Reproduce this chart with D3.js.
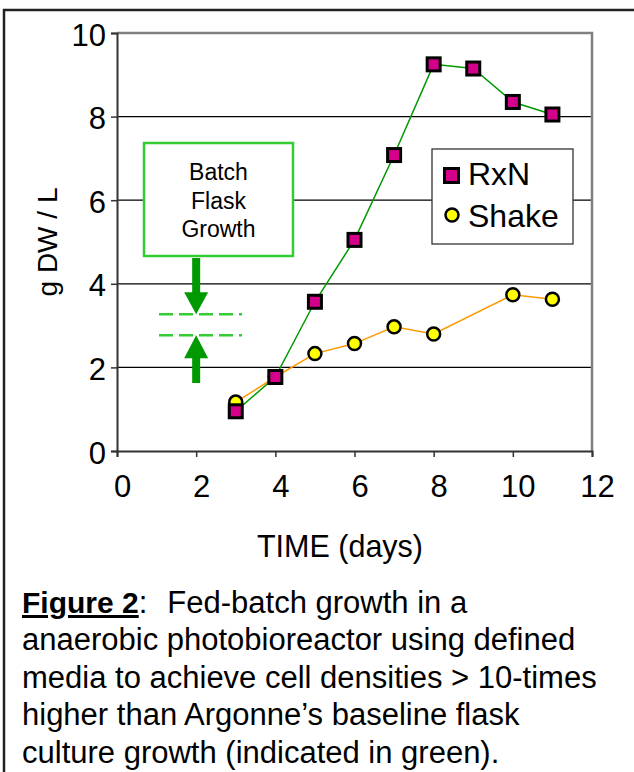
<!DOCTYPE html>
<html><head><meta charset="utf-8">
<script src="https://cdn.jsdelivr.net/npm/d3@7"></script>
<style>body{margin:0;background:#fff}svg{display:block;font-family:"Liberation Sans",Arial,sans-serif}text{white-space:pre}</style>
</head><body>
<svg id="c" width="634" height="772"></svg>
<script>
const rxnDays = [3,4,5,6,7,8,9,10,11];
const rxnValues = [0.95,1.77,3.57,5.05,7.08,9.25,9.15,8.35,8.05];
const shakeDays = [3,4,5,6,7,8,10,11];
const shakeValues = [1.17,1.77,2.33,2.57,2.97,2.8,3.74,3.63];
const xTicks = [0,2,4,6,8,10,12];
const yTicks = [0,2,4,6,8,10];
const flaskLevels = [3.27,2.77];
const flaskDay = 2;
const legendLabels = ["RxN","Shake"];
const boxLines = ["Batch","Flask","Growth"];
const captionLines = ["anaerobic photobioreactor using defined","media to achieve cell densities > 10-times","higher than Argonne\u2019s baseline flask","culture growth (indicated in green)."];

const svg = d3.select("#c");
const L=117,R=592,T=33,B=451;
const x = d3.scaleLinear().domain([0,12]).range([L,R]);
const y = d3.scaleLinear().domain([0,10]).range([B,T]);

// outer frame
svg.append("path").attr("d",`M4,772 V10 H634`).attr("fill","none").attr("stroke","#222").attr("stroke-width",2.5);

// gridlines
svg.append("g").selectAll("line").data(yTicks.filter(v=>v>0&&v<10)).join("line")
  .attr("x1",L).attr("x2",R).attr("y1",d=>y(d)).attr("y2",d=>y(d)).attr("stroke","#000").attr("stroke-width",1.3);
// plot border top/right
svg.append("path").attr("d",`M${L},${T} H${R} V${B}`).attr("fill","none").attr("stroke","#808080").attr("stroke-width",2.5);

// axes
const ya = svg.append("g").attr("transform",`translate(${L},0)`).call(d3.axisLeft(y).tickValues(yTicks).tickSize(6).tickPadding(6));
const xa = svg.append("g").attr("transform",`translate(0,${B})`).call(d3.axisBottom(x).tickValues(xTicks).tickSize(6).tickPadding(6));
[ya,xa].forEach(a=>{a.attr("font-size",31).attr("font-family","Liberation Sans, Arial");
 a.select(".domain").attr("stroke","#333").attr("stroke-width",2);a.selectAll(".tick line").attr("stroke","#333").attr("stroke-width",1.5);
 a.selectAll("text").attr("fill","#000");});
xa.selectAll("text").attr("dy",null).attr("y",46).attr("x",5);
ya.selectAll("text").attr("dy",null).attr("y",12).attr("x",-11);

// axis titles
svg.append("text").attr("x",340).attr("y",557).attr("text-anchor","middle").attr("font-size",30.5).text("TIME (days)");
svg.append("text").attr("transform",`translate(57,242) rotate(-90)`).attr("text-anchor","middle").attr("font-size",28).text("g DW / L");

// batch flask box
const bx=144,by=143,bw=149,bh=113;
svg.append("rect").attr("x",bx).attr("y",by).attr("width",bw).attr("height",bh).attr("fill","#fff").attr("stroke","#33CC33").attr("stroke-width",2.5);
svg.append("g").selectAll("text").data(boxLines).join("text").attr("x",bx+bw/2).attr("y",(d,i)=>180+i*28.5)
  .attr("text-anchor","middle").attr("font-size",23).text(d=>d);

// dashed levels
svg.append("g").selectAll("line").data(flaskLevels).join("line")
  .attr("x1",159).attr("x2",242).attr("y1",d=>y(d)).attr("y2",d=>y(d))
  .attr("stroke","#33CC33").attr("stroke-width",2.5).attr("stroke-dasharray","14,6");
// arrows
const ax = x(flaskDay), gArrow="#009900";
const topTip = y(flaskLevels[0]), botTip = y(flaskLevels[1]);
svg.append("rect").attr("x",ax-4).attr("y",by+bh+2).attr("width",8).attr("height",topTip-22-(by+bh+2)+1).attr("fill",gArrow);
svg.append("path").attr("d",`M${ax-12},${topTip-22} L${ax+12},${topTip-22} L${ax},${topTip} Z`).attr("fill",gArrow);
svg.append("path").attr("d",`M${ax-12},${botTip+23} L${ax+12},${botTip+23} L${ax},${botTip} Z`).attr("fill",gArrow);
svg.append("rect").attr("x",ax-4).attr("y",botTip+22).attr("width",8).attr("height",383-(botTip+22)).attr("fill",gArrow);

// series
const line = d3.line().x(d=>x(d[0])).y(d=>y(d[1]));
const shake = shakeDays.map((d,i)=>[d,shakeValues[i]]);
const rxn = rxnDays.map((d,i)=>[d,rxnValues[i]]);
svg.append("path").datum(shake).attr("d",line).attr("fill","none").attr("stroke","#FF9900").attr("stroke-width",1.5);
svg.append("path").datum(rxn).attr("d",line).attr("fill","none").attr("stroke","#009900").attr("stroke-width",1.5);
svg.append("g").selectAll("circle").data(shake).join("circle").attr("cx",d=>x(d[0])).attr("cy",d=>y(d[1])).attr("r",6.5)
  .attr("fill","#FFFF00").attr("stroke","#000").attr("stroke-width",2.5);
svg.append("g").selectAll("rect").data(rxn).join("rect").attr("x",d=>x(d[0])-6.5).attr("y",d=>y(d[1])-6.5).attr("width",13).attr("height",13)
  .attr("fill","#D4008C").attr("stroke","#000").attr("stroke-width",3);

// legend
svg.append("rect").attr("x",432).attr("y",149).attr("width",141).attr("height",95).attr("fill","#fff").attr("stroke","#333").attr("stroke-width",1.3);
svg.append("rect").attr("x",444.5).attr("y",168.5).attr("width",14).attr("height",14).attr("fill","#D4008C").attr("stroke","#000").attr("stroke-width",3);
svg.append("circle").attr("cx",452).attr("cy",215).attr("r",6.5).attr("fill","#FFFF00").attr("stroke","#000").attr("stroke-width",2.5);
svg.append("g").selectAll("text").data(legendLabels).join("text").attr("x",468).attr("y",(d,i)=>185+i*42)
  .attr("font-size",32).text(d=>d);

// caption
const cap = svg.append("text").attr("x",22).attr("y",613).attr("font-size",31);
cap.append("tspan").attr("font-weight","bold").attr("text-decoration","underline").attr("font-size",30).text("Figure 2");
cap.append("tspan").text(":");
cap.append("tspan").attr("dx",20).text("Fed-batch growth in a");
svg.append("g").selectAll("text").data(captionLines).join("text").attr("x",22).attr("y",(d,i)=>650+i*37.5)
  .attr("font-size",31).text(d=>d);
</script>
</body></html>
